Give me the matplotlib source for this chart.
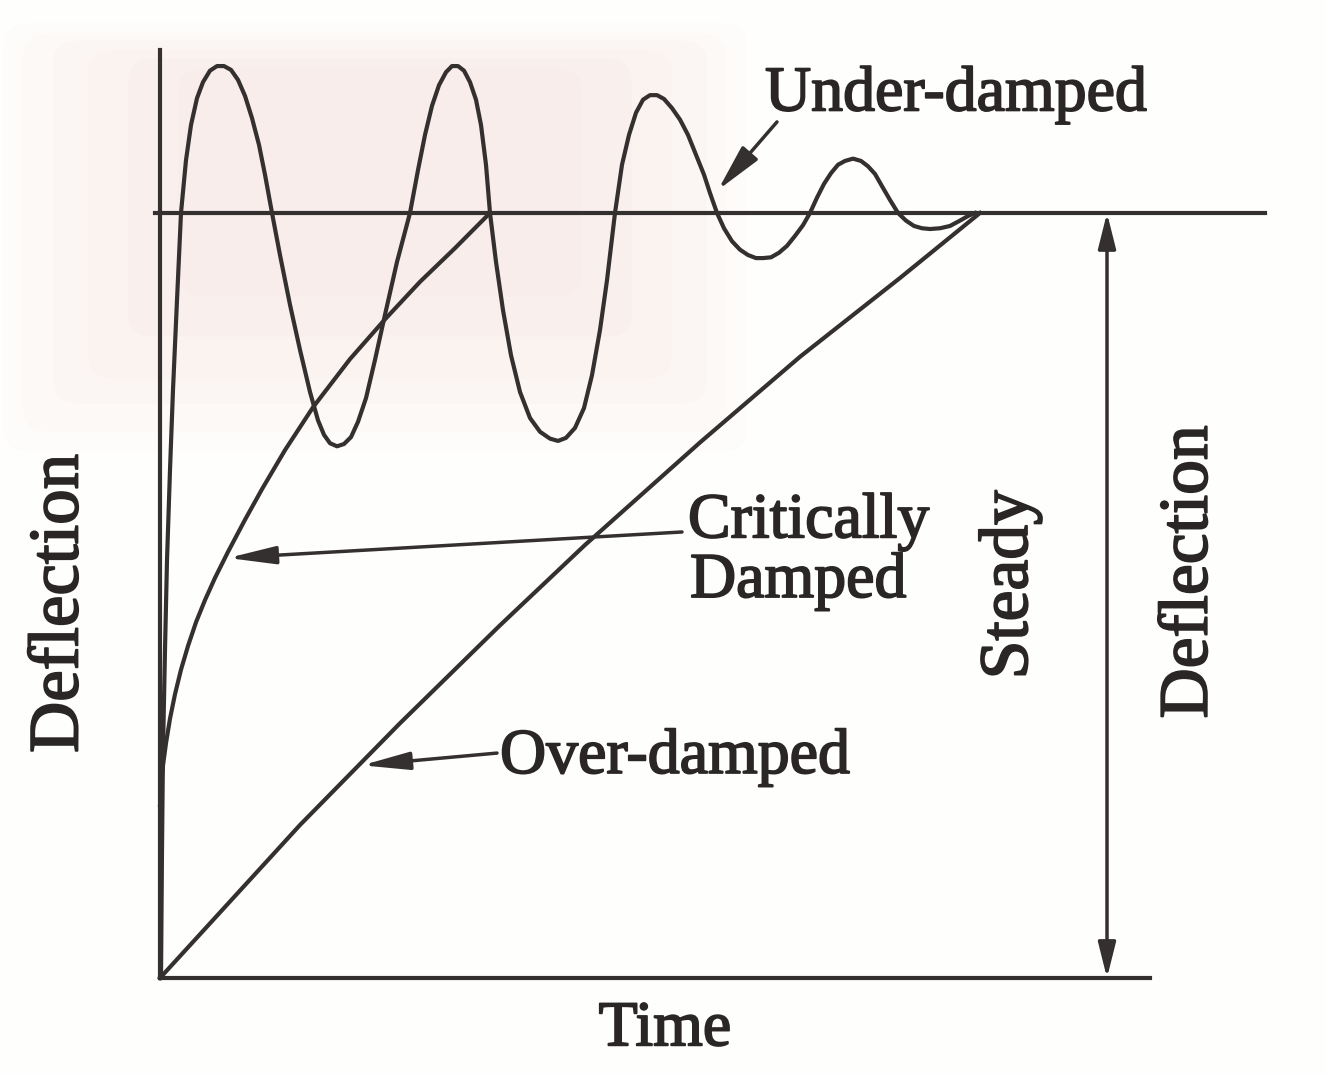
import matplotlib
matplotlib.use("Agg")
import matplotlib.pyplot as plt
from matplotlib.patches import FancyBboxPatch
import matplotlib.patheffects as pe

plt.rcParams['font.family'] = ['Liberation Serif', 'DejaVu Serif']

# ---- data (time in arbitrary units, deflection as fraction of steady value) ----
under_t = [0.01, 0.02, 0.03, 0.05, 0.07, 0.10, 0.13, 0.17, 0.21,
           0.26, 0.31, 0.37, 0.43, 0.50, 0.57, 0.64, 0.71, 0.78, 0.85, 0.92, 0.99, 1.05, 1.12,
           1.20, 1.30, 1.40, 1.50, 1.58, 1.64, 1.70, 1.77, 1.84, 1.91, 1.98, 2.06, 2.15, 2.25,
           2.37, 2.50,
           2.58, 2.65, 2.72, 2.79, 2.86, 2.92, 2.98, 3.04, 3.10, 3.16, 3.21, 3.26, 3.30,
           3.36, 3.43, 3.51, 3.60, 3.70, 3.80, 3.90, 3.98, 4.06, 4.15, 4.24, 4.32, 4.40, 4.47,
           4.55,
           4.62, 4.69, 4.76, 4.83, 4.90, 4.97, 5.04, 5.12, 5.20, 5.28, 5.36, 5.44, 5.50, 5.57,
           5.64, 5.72, 5.80, 5.88, 5.96, 6.03, 6.11, 6.19, 6.27, 6.35, 6.43, 6.50,
           6.57, 6.64, 6.71, 6.78, 6.85, 6.93, 7.01, 7.08, 7.15, 7.22, 7.30, 7.38,
           7.46, 7.54, 7.62, 7.70, 7.80, 7.90, 8.00, 8.08, 8.15]
under_d = [0.000, 0.167, 0.298, 0.429, 0.546, 0.664, 0.769, 0.886, 1.000,
           1.069, 1.115, 1.150, 1.171, 1.186, 1.192, 1.192, 1.187, 1.174, 1.153, 1.124, 1.089,
           1.050, 1.000,
           0.945, 0.880, 0.821, 0.766, 0.729, 0.710, 0.699, 0.695, 0.698, 0.707, 0.727, 0.758,
           0.808, 0.867, 0.936, 1.000,
           1.056, 1.102, 1.140, 1.167, 1.184, 1.192, 1.192, 1.186, 1.171, 1.148, 1.115, 1.063,
           1.000,
           0.936, 0.873, 0.814, 0.766, 0.732, 0.714, 0.705, 0.702, 0.706, 0.719, 0.745, 0.788,
           0.847, 0.912, 1.000,
           1.063, 1.102, 1.131, 1.148, 1.154, 1.154, 1.149, 1.137, 1.122, 1.102, 1.076, 1.050,
           1.026, 1.000,
           0.980, 0.963, 0.952, 0.945, 0.941, 0.941, 0.942, 0.948, 0.957, 0.970, 0.984, 1.000,
           1.020, 1.038, 1.052, 1.063, 1.068, 1.071, 1.068, 1.061, 1.051, 1.035, 1.017, 1.000,
           0.990, 0.983, 0.980, 0.979, 0.980, 0.983, 0.990, 0.996, 1.000]

crit_t = [0.00, 0.01, 0.03, 0.06, 0.10, 0.15, 0.21, 0.28, 0.36, 0.45, 0.55, 0.68, 0.85,
          1.02, 1.25, 1.53, 1.90, 2.25, 2.60, 2.95, 3.30]
crit_d = [0.226, 0.252, 0.278, 0.307, 0.339, 0.371, 0.403, 0.434, 0.465, 0.494, 0.523,
          0.557, 0.599, 0.639, 0.690, 0.746, 0.809, 0.861, 0.910, 0.954, 1.000]

over_t = [0.00, 0.63, 1.40, 2.40, 3.40, 4.25, 5.40, 6.40, 7.40, 8.20]
over_d = [0.000, 0.090, 0.200, 0.333, 0.461, 0.566, 0.700, 0.812, 0.915, 1.000]

steady_value = 1.0
labels = {"under": "Under-damped", "crit1": "Critically", "crit2": "Damped",
          "over": "Over-damped", "x": "Time", "y": "Deflection",
          "steady": "Steady", "steady2": "Deflection"}

# ---- figure ----
W, H = 1326, 1075
fig = plt.figure(figsize=(W / 100, H / 100), dpi=100)
fig.patch.set_facecolor('#fefefc')

# faint pink scan tint in the upper-left (soft, layered)
for (x0, y0, w, h, a) in [(30, 45, 690, 385, 0.02), (50, 55, 650, 355, 0.03),
                          (80, 62, 600, 320, 0.035), (115, 72, 530, 285, 0.035),
                          (155, 80, 450, 235, 0.035), (205, 90, 350, 185, 0.03)]:
    fig.patches.append(FancyBboxPatch((x0 / W, 1 - (y0 + h) / H), w / W, h / H,
                                      boxstyle="round,pad=0.02", transform=fig.transFigure,
                                      facecolor='#f0a8a0', edgecolor='none', alpha=a,
                                      zorder=-5))

ax = fig.add_axes([160 / W, (H - 978) / H, (1150 - 160) / W, (978 - 50) / H])
ax.set_zorder(2)
ax.set_facecolor('none')
ax.set_xlim(0, 9.9)
ax.set_ylim(0, 1.213)
for s in ['top', 'right']:
    ax.spines[s].set_visible(False)
lc = '#353030'
for s in ['left', 'bottom']:
    ax.spines[s].set_linewidth(3.0)
    ax.spines[s].set_color(lc)
ax.set_xticks([])
ax.set_yticks([])

lw = 3.0
ax.plot(under_t, under_d, color=lc, lw=lw, solid_joinstyle='round', clip_on=False)
ax.plot(crit_t, crit_d, color=lc, lw=lw, solid_joinstyle='round', clip_on=False)
ax.plot(over_t, over_d, color=lc, lw=lw, solid_joinstyle='round', clip_on=False)
ax.plot([-0.05, 11.05], [steady_value, steady_value], color=lc, lw=lw, clip_on=False)

fs = 46
tc = '#2a2626'
thick = [pe.withStroke(linewidth=1.3, foreground=tc)]
# Under-damped label & arrow
ax.text(6.05, 1.134, labels["under"], fontsize=fs, color=tc, ha='left', va='baseline',
        path_effects=thick)
ax.annotate('', xy=(5.58, 1.030), xytext=(6.17, 1.119),
            arrowprops=dict(arrowstyle='-|>,head_length=1.6,head_width=0.35',
                            mutation_scale=18, color=lc, lw=2.5, shrinkA=0, shrinkB=0))
# Critically damped
ax.text(5.28, 0.576, labels["crit1"], fontsize=fs, color=tc, ha='left', va='baseline',
        path_effects=thick)
ax.text(5.30, 0.498, labels["crit2"], fontsize=fs, color=tc, ha='left', va='baseline',
        path_effects=thick)
ax.annotate('', xy=(0.68, 0.549), xytext=(5.22, 0.583),
            arrowprops=dict(arrowstyle='-|>,head_length=1.6,head_width=0.3',
                            mutation_scale=18, color=lc, lw=2.5, shrinkA=0, shrinkB=0))
# Over-damped
ax.text(3.40, 0.268, labels["over"], fontsize=fs, color=tc, ha='left', va='baseline',
        path_effects=thick)
ax.annotate('', xy=(2.02, 0.278), xytext=(3.37, 0.294),
            arrowprops=dict(arrowstyle='-|>,head_length=1.6,head_width=0.3',
                            mutation_scale=18, color=lc, lw=2.5, shrinkA=0, shrinkB=0))
# Steady deflection double arrow
ax.annotate('', xy=(9.47, 0.0), xytext=(9.47, steady_value),
            arrowprops=dict(arrowstyle='<|-|>,head_length=1.2,head_width=0.3',
                            mutation_scale=18, color=lc, lw=2.5, shrinkA=0, shrinkB=0),
            annotation_clip=False)
ax.text(8.50, 0.514, labels["steady"], fontsize=50, color=tc, rotation=90,
        ha='center', va='center', clip_on=False, path_effects=thick)
ax.text(10.30, 0.531, labels["steady2"], fontsize=50, color=tc, rotation=90,
        ha='center', va='center', clip_on=False, path_effects=thick)
# axis labels
ax.text(5.05, -0.088, labels["x"], fontsize=fs, color=tc, ha='center', va='baseline',
        clip_on=False, path_effects=thick)
ax.text(-1.0, 0.490, labels["y"], fontsize=51, color=tc, rotation=90,
        ha='center', va='center', clip_on=False, path_effects=thick)

fig.savefig('out.png', dpi=100, facecolor=fig.get_facecolor())
